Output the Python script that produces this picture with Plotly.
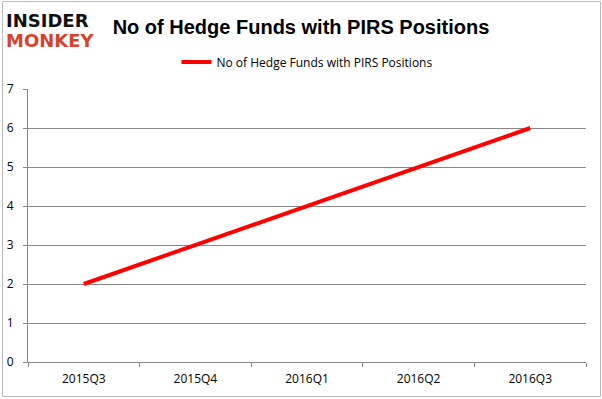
import plotly.graph_objects as go

categories = ["2015Q3", "2015Q4", "2016Q1", "2016Q2", "2016Q3"]
values = [2, 3, 4, 5, 6]
series_name = "No of Hedge Funds with PIRS Positions"
title_text = "No of Hedge Funds with PIRS Positions"

W, H = 602, 399
ml, mr, mt, mb = 28, 16, 89, 37

fig = go.Figure()
fig.add_trace(go.Scatter(
    x=categories, y=values, mode="lines", name=series_name,
    line=dict(color="#ff0000", width=4),
))

fig.update_layout(
    width=W, height=H,
    margin=dict(l=ml, r=mr, t=mt, b=mb, autoexpand=False),
    paper_bgcolor="white", plot_bgcolor="white",
    font=dict(family="Open Sans", size=12, color="#000"),
    showlegend=True,
    legend=dict(orientation="h", x=0.5, xanchor="center", y=1 + (89 - 62) / 273, yanchor="middle",
                font=dict(size=12, family="Open Sans"), itemwidth=30),
    title=dict(text="<b>" + title_text + "</b>", x=0.5, xanchor="center",
               y=1 - 27 / H, yanchor="middle",
               font=dict(family="Liberation Sans", size=20, color="#000")),
)
fig.update_xaxes(
    type="category", range=[-0.5, 4.5], tickson="boundaries", automargin=False,
    ticks="outside", ticklen=4, tickcolor="#888", showline=True, linecolor="#888",
    showgrid=False, tickfont=dict(size=12), ticklabelstandoff=6,
)
fig.update_yaxes(
    range=[0, 7], dtick=1, ticks="outside", ticklen=4, tickcolor="#888", automargin=False,
    showline=True, linecolor="#888", showgrid=True, gridcolor="#888", gridwidth=1,
    zeroline=False, tickfont=dict(size=12), ticklabelstandoff=7,
)

# outer border
pw, ph = W - ml - mr, H - mt - mb
def px2x(p): return (p - ml) / pw
def py2y(p): return (H - mb - p) / ph
fig.add_shape(type="rect", xref="paper", yref="paper",
              x0=px2x(2.5), x1=px2x(600.5), y0=py2y(396.5), y1=py2y(1.5),
              line=dict(color="#bbb", width=1), fillcolor="rgba(0,0,0,0)", layer="below")

# logo
fig.add_annotation(text="<b>INSIDER</b>", xref="paper", yref="paper",
                   x=px2x(4), y=py2y(20), xanchor="left", yanchor="middle", showarrow=False,
                   font=dict(family="DejaVu Sans", size=18, color="#111"))
fig.add_annotation(text="<b>MONKEY</b>", xref="paper", yref="paper",
                   x=px2x(4), y=py2y(41), xanchor="left", yanchor="middle", showarrow=False,
                   font=dict(family="DejaVu Sans", size=18, color="#d9412b"))

fig.write_html("out.html")
